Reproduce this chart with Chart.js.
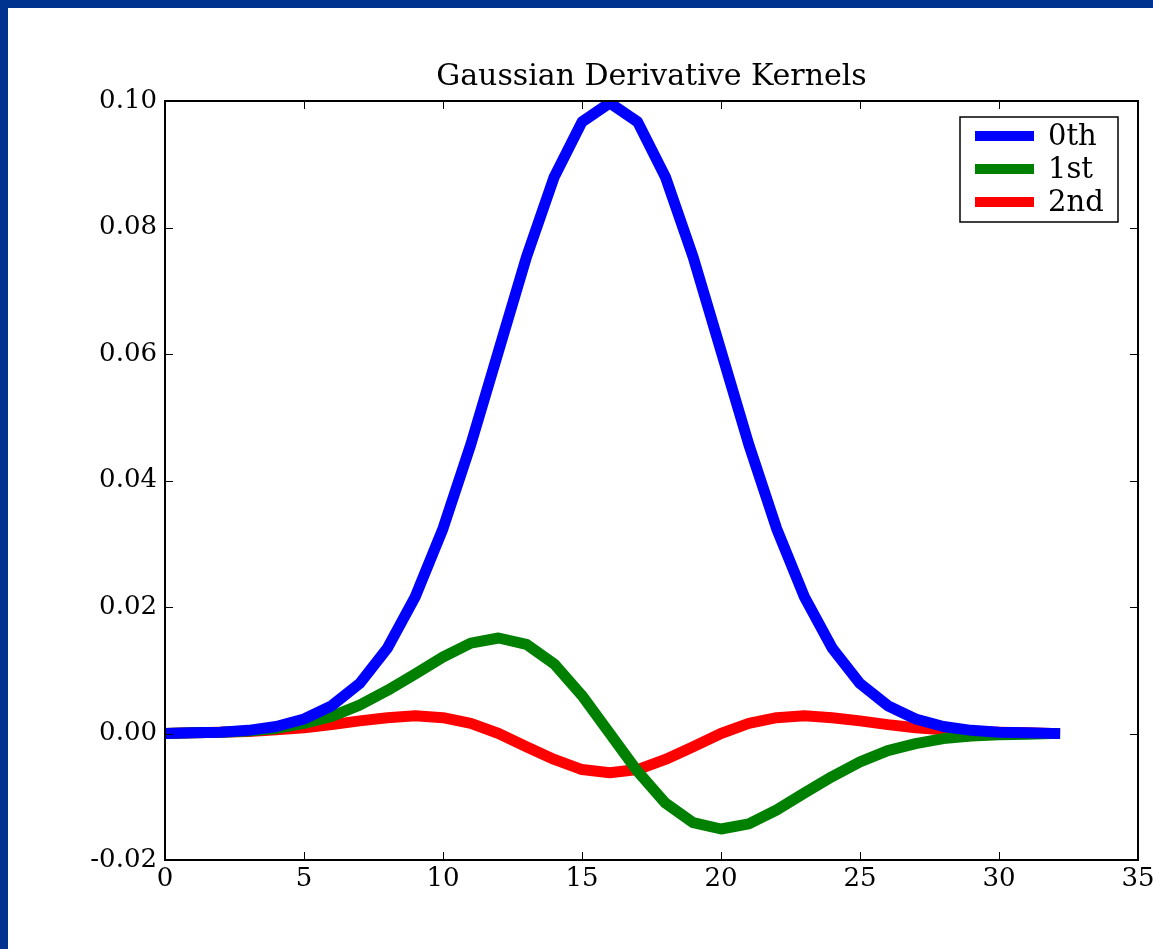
<!DOCTYPE html>
<html>
<head>
<meta charset="utf-8">
<script src="https://cdn.jsdelivr.net/npm/chart.js@4.4.1/dist/chart.umd.min.js"></script>
<style>
  html, body { margin: 0; padding: 0; background: #00338f; width: 1153px; height: 949px; overflow: hidden; }
  #wrap { position: absolute; left: 8px; top: 8px; width: 1145px; height: 941px; background: #ffffff; }
  canvas { display: block; }
</style>
</head>
<body>
<div id="wrap"><canvas id="c" width="1145" height="941"></canvas></div>
<script>
const titleText = 'Gaussian Derivative Kernels';
const seriesLabels = ['0th', '1st', '2nd'];
const seriesColors = ['#0000ff', '#008000', '#ff0000'];
const xValues = [0,1,2,3,4,5,6,7,8,9,10,11,12,13,14,15,16,17,18,19,20,21,22,23,24,25,26,27,28,29,30,31,32];
const zeroth = [0.0000, 0.0001, 0.0002, 0.0005, 0.0011, 0.0023, 0.0044, 0.0079, 0.0135, 0.0216, 0.0324, 0.0457, 0.0605, 0.0753, 0.0880, 0.0967, 0.0997, 0.0967, 0.0880, 0.0753, 0.0605, 0.0457, 0.0324, 0.0216, 0.0135, 0.0079, 0.0044, 0.0023, 0.0011, 0.0005, 0.0002, 0.0001, 0.0000];
const first = [0.0000, 0.0001, 0.0002, 0.0004, 0.0008, 0.0016, 0.0027, 0.0045, 0.0068, 0.0094, 0.0121, 0.0143, 0.0151, 0.0141, 0.0110, 0.0060, 0.0000, -0.0060, -0.0110, -0.0141, -0.0151, -0.0143, -0.0121, -0.0094, -0.0068, -0.0045, -0.0027, -0.0016, -0.0008, -0.0004, -0.0002, -0.0001, 0.0000];
const second = [0.0000, 0.0001, 0.0002, 0.0003, 0.0006, 0.0009, 0.0014, 0.0020, 0.0025, 0.0028, 0.0025, 0.0016, 0.0000, -0.0021, -0.0041, -0.0057, -0.0062, -0.0057, -0.0041, -0.0021, 0.0000, 0.0016, 0.0025, 0.0028, 0.0025, 0.0020, 0.0014, 0.0009, 0.0006, 0.0003, 0.0002, 0.0001, 0.0000];
const xTickMin = 0, xTickMax = 35, xTickStep = 5;
const yTickMin = -0.02, yTickMax = 0.10, yTickStep = 0.02;

const allSeries = [zeroth, first, second];
const FONT = '"DejaVu Serif", "Liberation Serif", serif';

const framePlugin = {
  id: 'framePlugin',
  afterDatasetsDraw(chart) {
    const ctx = chart.ctx;
    const a = chart.chartArea;
    const xs = chart.scales.x, ys = chart.scales.y;
    ctx.save();
    ctx.strokeStyle = '#000';
    ctx.lineWidth = 1;
    const tl = 8;
    ctx.beginPath();
    xs.ticks.forEach(t => {
      const px = Math.round(xs.getPixelForValue(t.value)) + 0.5;
      ctx.moveTo(px, a.bottom); ctx.lineTo(px, a.bottom - tl);
      ctx.moveTo(px, a.top); ctx.lineTo(px, a.top + tl);
    });
    ys.ticks.forEach(t => {
      const py = Math.round(ys.getPixelForValue(t.value)) + 0.5;
      ctx.moveTo(a.left, py); ctx.lineTo(a.left + tl, py);
      ctx.moveTo(a.right, py); ctx.lineTo(a.right - tl, py);
    });
    ctx.stroke();
    ctx.lineWidth = 2;
    ctx.strokeRect(a.left, a.top, a.right - a.left, a.bottom - a.top);
    ctx.restore();
  },
  afterDraw(chart) {
    const ctx = chart.ctx;
    const a = chart.chartArea;
    ctx.save();
    // title
    ctx.fillStyle = '#000';
    ctx.font = '30px ' + FONT;
    ctx.textAlign = 'center';
    ctx.textBaseline = 'alphabetic';
    ctx.fillText(titleText, (a.left + a.right) / 2, a.top - 16);
    // legend
    const bx = a.right - 178, by = a.top + 16, bw = 158, bh = 105;
    ctx.fillStyle = '#fff';
    ctx.fillRect(bx, by, bw, bh);
    ctx.strokeStyle = '#000';
    ctx.lineWidth = 1.5;
    ctx.strokeRect(bx, by, bw, bh);
    chart.data.datasets.forEach((ds, i) => {
      const cy = by + 19 + i * 33;
      ctx.strokeStyle = ds.borderColor;
      ctx.lineWidth = 10;
      ctx.lineCap = 'butt';
      ctx.beginPath();
      ctx.moveTo(bx + 15, cy);
      ctx.lineTo(bx + 74, cy);
      ctx.stroke();
      ctx.fillStyle = '#000';
      ctx.font = '29px ' + FONT;
      ctx.textAlign = 'left';
      ctx.textBaseline = 'middle';
      ctx.fillText(ds.label, bx + 88, cy + 1);
    });
    ctx.restore();
  }
};

new Chart(document.getElementById('c'), {
  type: 'line',
  data: {
    datasets: allSeries.map((s, i) => ({
      label: seriesLabels[i],
      data: xValues.map((x, j) => ({ x: x, y: s[j] })),
      borderColor: seriesColors[i],
      backgroundColor: seriesColors[i],
      borderWidth: 11,
      pointRadius: 0,
      pointHoverRadius: 0,
      tension: 0,
      fill: false,
      borderCapStyle: 'square',
      borderJoinStyle: 'round',
      clip: 0
    }))
  },
  options: {
    responsive: false,
    animation: false,
    events: [],
    layout: { padding: { top: 93, right: 15, left: 0, bottom: 0 } },
    plugins: { legend: { display: false }, title: { display: false }, tooltip: { enabled: false } },
    scales: {
      x: {
        type: 'linear',
        min: xTickMin, max: xTickMax,
        grid: { display: false, drawTicks: false, tickLength: 0 },
        border: { display: false },
        ticks: {
          stepSize: xTickStep,
          color: '#000',
          font: { family: FONT, size: 26 },
          padding: 4,
          maxRotation: 0,
          callback: v => String(Math.round(v))
        },
        afterFit(scale) { scale.height = 89; scale.paddingLeft = 0; scale.paddingRight = 0; }
      },
      y: {
        type: 'linear',
        min: yTickMin, max: yTickMax,
        grid: { display: false, drawTicks: false, tickLength: 0 },
        border: { display: false },
        ticks: {
          stepSize: yTickStep,
          color: '#000',
          font: { family: FONT, size: 26 },
          padding: 8,
          callback: v => (Math.abs(v) < 1e-9 ? 0 : v).toFixed(2)
        },
        afterFit(scale) { scale.width = 157; scale.paddingTop = 0; scale.paddingBottom = 0; }
      }
    }
  },
  plugins: [framePlugin]
});
</script>
</body>
</html>
